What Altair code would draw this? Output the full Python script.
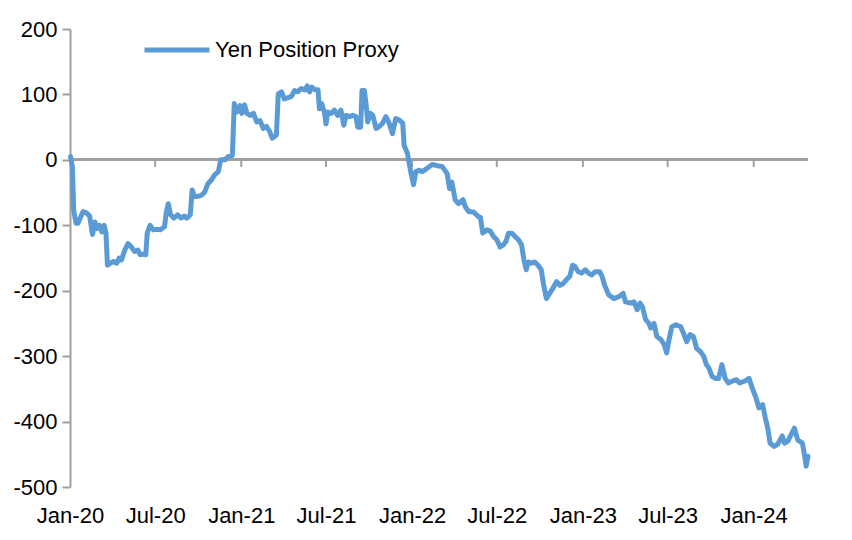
import altair as alt
import pandas as pd

# ---- data ----
dates = [
    "2020-01-02", "2020-01-06", "2020-01-09", "2020-01-14", "2020-01-18", "2020-01-29",
    "2020-02-05", "2020-02-12", "2020-02-18", "2020-02-23", "2020-02-28", "2020-03-04",
    "2020-03-09", "2020-03-14", "2020-03-18", "2020-03-21", "2020-03-27", "2020-04-03",
    "2020-04-10", "2020-04-15", "2020-04-20", "2020-04-27", "2020-05-04", "2020-05-11",
    "2020-05-18", "2020-05-25", "2020-05-30", "2020-06-05", "2020-06-11", "2020-06-14",
    "2020-06-20", "2020-06-27", "2020-07-05", "2020-07-12", "2020-07-21", "2020-07-25",
    "2020-07-29", "2020-08-03", "2020-08-10", "2020-08-18", "2020-08-25", "2020-09-01",
    "2020-09-07", "2020-09-14", "2020-09-18", "2020-09-23", "2020-09-30", "2020-10-08",
    "2020-10-15", "2020-10-22", "2020-10-29", "2020-11-05", "2020-11-13", "2020-11-18",
    "2020-11-27", "2020-12-04", "2020-12-13", "2020-12-17", "2020-12-22", "2020-12-29",
    "2021-01-02", "2021-01-08", "2021-01-13", "2021-01-20", "2021-01-27", "2021-02-03",
    "2021-02-10", "2021-02-17", "2021-02-24", "2021-03-03", "2021-03-08", "2021-03-17",
    "2021-03-21", "2021-03-28", "2021-04-03", "2021-04-11", "2021-04-18", "2021-04-25",
    "2021-05-02", "2021-05-09", "2021-05-17", "2021-05-22", "2021-05-27", "2021-06-01",
    "2021-06-08", "2021-06-14", "2021-06-17", "2021-06-22", "2021-06-28", "2021-07-01",
    "2021-07-05", "2021-07-12", "2021-07-19", "2021-07-26", "2021-08-02", "2021-08-08",
    "2021-08-13", "2021-08-20", "2021-08-27", "2021-09-03", "2021-09-07", "2021-09-13",
    "2021-09-16", "2021-09-21", "2021-09-25", "2021-09-28", "2021-10-04", "2021-10-09",
    "2021-10-16", "2021-10-23", "2021-10-30", "2021-11-06", "2021-11-13", "2021-11-20",
    "2021-11-27", "2021-12-04", "2021-12-12", "2021-12-15", "2021-12-22", "2021-12-29",
    "2022-01-04", "2022-01-09", "2022-01-16", "2022-01-23", "2022-02-02", "2022-02-13",
    "2022-02-24", "2022-03-06", "2022-03-17", "2022-03-22", "2022-03-27", "2022-04-03",
    "2022-04-10", "2022-04-20", "2022-04-25", "2022-05-02", "2022-05-13", "2022-05-23",
    "2022-05-27", "2022-06-01", "2022-06-10", "2022-06-17", "2022-06-24", "2022-07-01",
    "2022-07-08", "2022-07-15", "2022-07-21", "2022-07-26", "2022-08-02", "2022-08-09",
    "2022-08-16", "2022-08-23", "2022-08-28", "2022-09-02", "2022-09-06", "2022-09-13",
    "2022-09-20", "2022-09-27", "2022-10-04", "2022-10-09", "2022-10-15", "2022-10-22",
    "2022-10-29", "2022-11-06", "2022-11-13", "2022-11-20", "2022-11-27", "2022-12-04",
    "2022-12-10", "2022-12-15", "2022-12-22", "2022-12-29", "2023-01-06", "2023-01-13",
    "2023-01-20", "2023-01-27", "2023-02-06", "2023-02-11", "2023-02-16", "2023-02-25",
    "2023-03-08", "2023-03-19", "2023-03-28", "2023-04-02", "2023-04-13", "2023-04-20",
    "2023-04-27", "2023-05-03", "2023-05-08", "2023-05-15", "2023-05-22", "2023-05-26",
    "2023-06-02", "2023-06-08", "2023-06-17", "2023-06-24", "2023-06-29", "2023-07-04",
    "2023-07-10", "2023-07-19", "2023-07-29", "2023-08-04", "2023-08-11", "2023-08-18",
    "2023-08-25", "2023-09-01", "2023-09-09", "2023-09-16", "2023-09-22", "2023-09-27",
    "2023-10-04", "2023-10-11", "2023-10-18", "2023-10-25", "2023-11-01", "2023-11-08",
    "2023-11-17", "2023-11-25", "2023-12-02", "2023-12-13", "2023-12-22", "2023-12-29",
    "2024-01-06", "2024-01-12", "2024-01-20", "2024-01-26", "2024-01-31", "2024-02-05",
    "2024-02-14", "2024-02-21", "2024-03-02", "2024-03-07", "2024-03-14", "2024-03-21",
    "2024-03-28", "2024-04-04", "2024-04-14", "2024-04-19", "2024-04-22", "2024-04-26",
]
values = [
    5, -10, -78, -97, -97, -79,
    -81, -86, -114, -95, -105, -100,
    -110, -100, -113, -161, -158, -155,
    -158, -150, -153, -138, -128, -133,
    -140, -138, -145, -144, -145, -112,
    -100, -107, -106, -107, -102, -79,
    -67, -84, -89, -84, -89, -86,
    -89, -84, -46, -56, -56, -54,
    -49, -36, -31, -23, -18, 0,
    0, 5, 7, 86, 73, 83,
    71, 84, 71, 68, 71, 58,
    60, 48, 51, 43, 33, 38,
    101, 104, 93, 95, 97, 106,
    104, 109, 107, 113, 104, 111,
    107, 107, 78, 86, 71, 55,
    73, 71, 76, 68, 76, 53,
    68, 66, 68, 66, 50, 50,
    106, 106, 83, 58, 71, 68,
    48, 51, 56, 66, 56, 40,
    63, 61, 56, 22, 10, -18,
    -38, -18, -16, -18, -13, -7,
    -9, -10, -21, -44, -34, -61,
    -67, -61, -72, -79, -80, -87,
    -88, -112, -107, -109, -117, -122,
    -133, -130, -124, -112, -112, -117,
    -122, -130, -153, -168, -156, -158,
    -156, -161, -168, -191, -212, -204,
    -196, -186, -192, -189, -183, -178,
    -161, -163, -171, -173, -168, -173,
    -176, -171, -171, -178, -191, -206,
    -212, -209, -204, -217, -219, -217,
    -229, -219, -224, -244, -250, -257,
    -250, -270, -275, -283, -295, -275,
    -255, -252, -255, -265, -278, -267,
    -270, -288, -293, -300, -313, -318,
    -331, -334, -334, -313, -334, -341,
    -338, -336, -341, -338, -334, -349,
    -364, -379, -374, -395, -410, -433,
    -438, -435, -422, -433, -430, -420,
    -410, -428, -433, -453, -468, -453,
]
series_name = "Yen Position Proxy"

tick_years = [2020, 2020, 2021, 2021, 2022, 2022, 2023, 2023, 2024]
tick_months = [1, 7, 1, 7, 1, 7, 1, 7, 1]
y_ticks = [-500, -400, -300, -200, -100, 0, 100, 200]

df = pd.DataFrame({"date": dates, "value": values, "series": series_name})
tick_df = pd.DataFrame({
    "date": [f"{y}-{m:02d}-01" for y, m in zip(tick_years, tick_months)][1:],
})

FONT = "Liberation Sans Narrow, Arial Narrow, Liberation Sans, Arial, sans-serif"
BLUE = "#5B9BD5"
GRAY = "#A0A0A0"
FS = 22

x_scale = alt.Scale(
    type="utc",
    domain=[alt.DateTime(year=2020, month=1, date=1, utc=True),
            alt.DateTime(year=2024, month=4, date=26, utc=True)],
)
y_scale = alt.Scale(domain=[-500, 200], nice=False, zero=False)

x_axis = alt.Axis(
    title=None,
    values=[alt.DateTime(year=y, month=m, date=1, utc=True) for y, m in zip(tick_years, tick_months)],
    labelExpr="utcFormat(datum.value, '%b-%y')",
    domain=False,
    ticks=False,
    grid=False,
    labelFlush=False,
    labelOverlap=False,
    labelFontSize=FS,
    labelFont=FONT,
    labelColor="black",
    labelPadding=18,
)
y_axis = alt.Axis(
    title=None,
    values=y_ticks,
    labelExpr="datum.value < 0 ? '-' + abs(datum.value) : '' + datum.value",
    grid=False,
    domain=True,
    domainColor=GRAY,
    domainWidth=2,
    ticks=True,
    tickSize=8,
    tickColor=GRAY,
    tickWidth=2,
    labelFontSize=FS,
    labelFont=FONT,
    labelColor="black",
    labelPadding=5,
)

zero_line = alt.Chart(df).mark_rule(color=GRAY, strokeWidth=2).encode(
    y=alt.datum(0, scale=y_scale)
)

ticks = alt.Chart(tick_df).mark_rule(color=GRAY, strokeWidth=2).encode(
    x=alt.X("date:T", scale=x_scale, axis=x_axis),
    y=alt.datum(0, scale=y_scale, axis=y_axis),
    y2=alt.datum(-11),
)

line = alt.Chart(df).mark_line(strokeWidth=5, strokeCap="round", strokeJoin="round").encode(
    x=alt.X("date:T", scale=x_scale, axis=x_axis),
    y=alt.Y("value:Q", scale=y_scale, axis=y_axis),
    color=alt.Color(
        "series:N",
        scale=alt.Scale(domain=[series_name], range=[BLUE]),
        legend=alt.Legend(
            title=None,
            orient="none",
            legendX=72,
            legendY=-14,
            symbolType="stroke",
            symbolSize=4225,
            symbolStrokeWidth=5,
            symbolStrokeColor=BLUE,
            labelFontSize=FS,
            labelFont=FONT,
            labelColor="black",
            labelOffset=3,
            labelLimit=400,
        ),
    ),
)

chart = alt.layer(zero_line, ticks, line).properties(
    width=738,
    height=458,
    autosize=alt.AutoSizeParams(type="none"),
    padding={"left": 62, "top": 21, "right": 36, "bottom": 44},
    background="white",
).configure_view(stroke=None)

chart.save("out.html", embed_options={"renderer": "svg", "actions": False})
